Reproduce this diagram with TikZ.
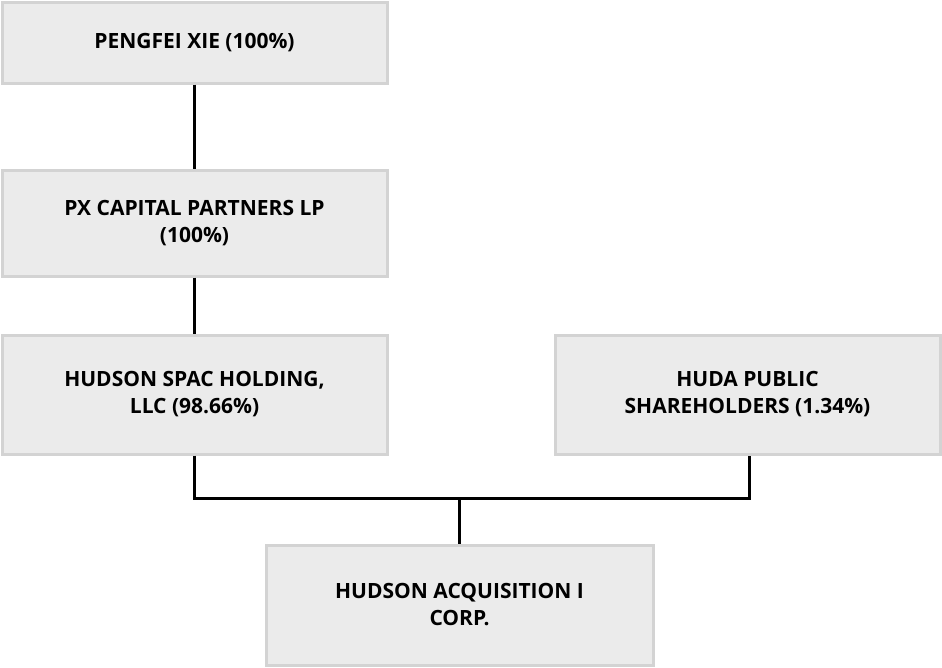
\documentclass[tikz,border=0pt]{standalone}
\usepackage{fontspec}
\setmainfont{Open Sans}
\begin{document}
\begin{tikzpicture}[x=1pt,y=-1pt,
  entity/.style={draw=boxline,fill=boxfill,line width=3pt,align=center,
    font=\fontsize{21}{27}\selectfont\bfseries,inner sep=0pt},
  link/.style={line width=3pt,black}]
\definecolor{boxfill}{HTML}{EBEBEB}
\definecolor{boxline}{HTML}{D3D3D3}
\useasboundingbox (0,0) rectangle (942,667);
\node[entity,minimum width=385,minimum height=81] (px) at (194.5,42.5) {PENGFEI XIE (100\%)};
\node[entity,minimum width=385,minimum height=106] (cap) at (194.5,223) {PX CAPITAL PARTNERS LP\\(100\%)};
\node[entity,minimum width=385,minimum height=119] (spac) at (194.5,394.5) {HUDSON SPAC HOLDING,\\LLC (98.66\%)};
\node[entity,minimum width=385,minimum height=119] (pub) at (747.5,394.5) {HUDA PUBLIC\\SHAREHOLDERS (1.34\%)};
\node[entity,minimum width=387,minimum height=120] (acq) at (459.5,605) {HUDSON ACQUISITION I\\CORP.};
\coordinate (j) at (459.5,498);
\draw[link] (px.south) -- (cap.north);
\draw[link] (cap.south) -- (spac.north);
\draw[link] (spac.south) |- (j) -| ([xshift=1.5pt]pub.south);
\draw[link] (j) -- (acq.north);
\end{tikzpicture}
\end{document}
